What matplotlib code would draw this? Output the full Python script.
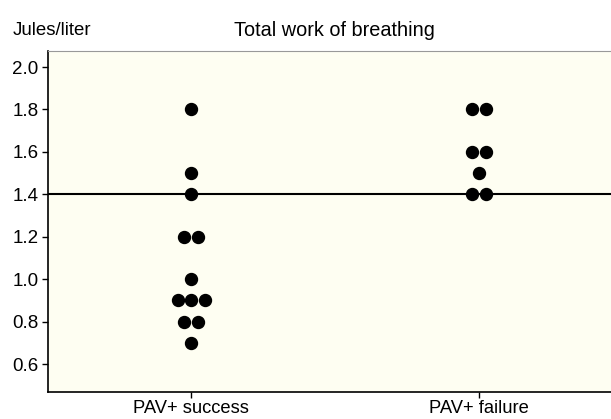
import numpy as np
import matplotlib.pyplot as plt

plt.rcParams['font.family'] = ['Liberation Sans', 'DejaVu Sans']

groups = ['PAV+ success', 'PAV+ failure']
# values per group, listed as (value, count) rows
success_vals = [1.8, 1.5, 1.4, 1.2, 1.0, 0.9, 0.8, 0.7]
success_cnt = [1, 1, 1, 2, 1, 3, 2, 1]
failure_vals = [1.8, 1.6, 1.5, 1.4]
failure_cnt = [2, 2, 1, 2]
threshold = 1.4
yticks = [0.6, 0.8, 1.0, 1.2, 1.4, 1.6, 1.8, 2.0]

fig = plt.figure(figsize=(6.11, 4.19), dpi=100)
ax = fig.add_axes([0.0786, 0.0644, 0.9214, 0.8136])
ax.set_facecolor('#fefef2')

step = 0.047
for gi, (vals, cnts) in enumerate([(success_vals, success_cnt), (failure_vals, failure_cnt)]):
    for v, c in zip(vals, cnts):
        offs = (np.arange(c) - (c - 1) / 2) * step
        ax.plot(gi + offs, [v] * c, 'o', color='black', markersize=8.6, zorder=3)

ax.axhline(threshold, color='black', lw=1.5, zorder=2)

ax.set_xlim(-0.497, 1.458)
ax.set_ylim(0.468, 2.075)
ax.set_xticks([0, 1])
ax.set_xticklabels(groups, fontsize=13.2)
ax.set_yticks(yticks)
ax.set_yticklabels(['%.1f' % t for t in yticks], fontsize=13.5)
ax.tick_params(direction='out', length=4, width=1, pad=3)
ax.tick_params(axis='x', pad=2)

ax.spines['right'].set_visible(False)
ax.spines['top'].set_color('#999999')
ax.spines['top'].set_linewidth(0.8)
ax.spines['left'].set_linewidth(1.2)
ax.spines['bottom'].set_linewidth(1.2)

fig.text(0.548, 0.928, 'Total work of breathing', ha='center', va='center', fontsize=14.3)
fig.text(0.02, 0.928, 'Jules/liter', ha='left', va='center', fontsize=13.4)

fig.savefig('out.png', dpi=100)
